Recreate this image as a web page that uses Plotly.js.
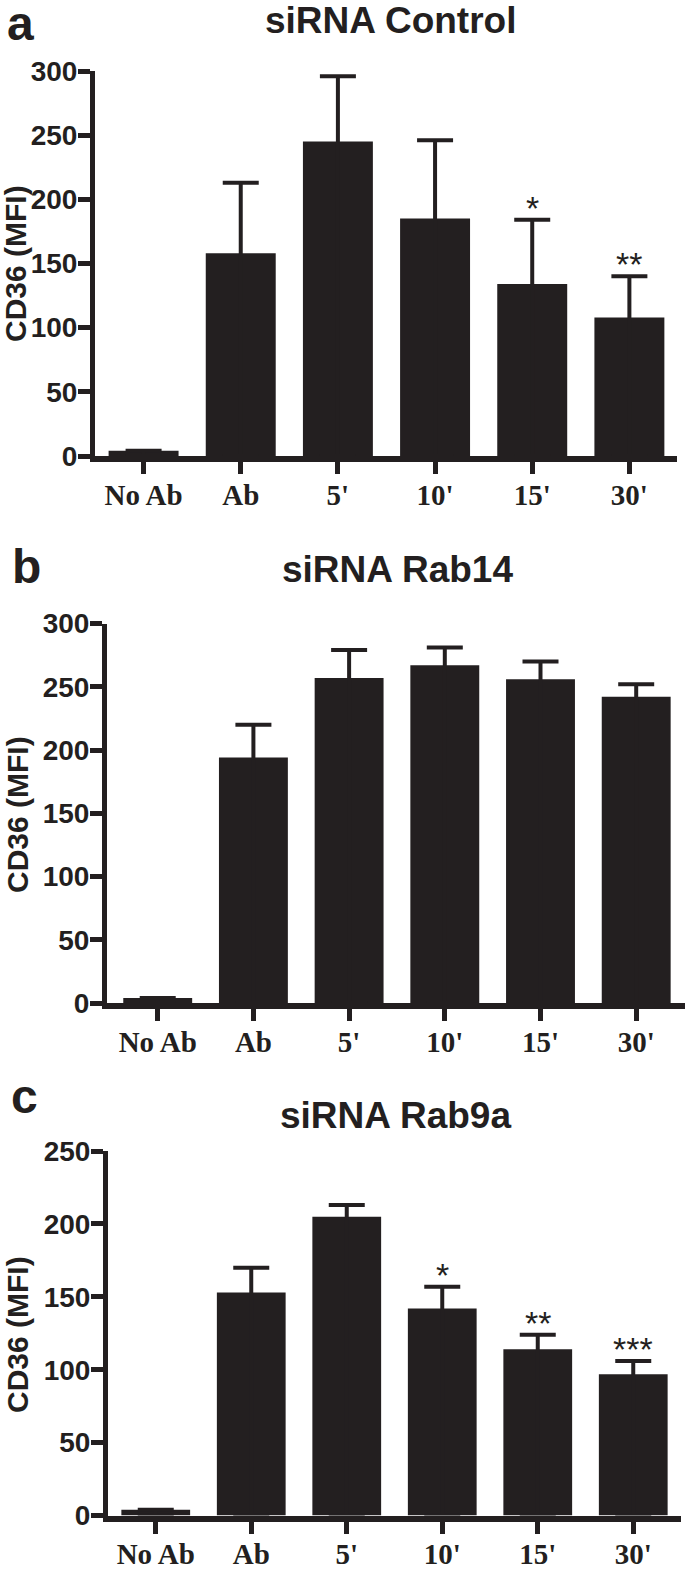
<!DOCTYPE html>
<html>
<head>
<meta charset="utf-8">
<script src="https://cdn.plot.ly/plotly-3.0.1.min.js"></script>
<style>
  html, body { margin: 0; padding: 0; background: #fff; }
  #chart { width: 685px; height: 1580px; }
</style>
</head>
<body>
<div id="chart"></div>
<script>
var categories = ['No Ab', 'Ab', "5'", "10'", "15'", "30'"];

// panel a - siRNA Control
var controlMean = [4, 158, 245, 185, 134, 108];
var controlErr = [0, 55, 51, 61, 50, 32];
var controlStars = ['', '', '', '', '*', '**'];

// panel b - siRNA Rab14
var rab14Mean = [4, 194, 257, 267, 256, 242];
var rab14Err = [0, 26, 22, 14, 14, 10];

// panel c - siRNA Rab9a
var rab9aMean = [4, 153, 205, 142, 114, 97];
var rab9aErr = [0, 17, 8, 15, 10, 9];
var rab9aStars = ['', '', '', '*', '**', '***'];

var ink = '#231f20';
var sans = 'Liberation Sans, Arial, Helvetica, sans-serif';
var serif = 'Liberation Serif, Times New Roman, serif';
var W = 685, H = 1580;

function barTrace(means, errs, xa, ya) {
    return {
        x: categories,
        y: means,
        type: 'bar',
        xaxis: xa,
        yaxis: ya,
        width: 0.72,
        marker: {color: ink, line: {width: 0}},
        error_y: {
            type: 'data', symmetric: false,
            array: errs, arrayminus: means,
            color: ink, thickness: 4, width: 18
        },
        hoverinfo: 'none'
    };
}

function xAxis(left, right, range, anchor) {
    return {
        type: 'category',
        domain: [left / W, right / W], range: range, anchor: anchor,
        showline: true, linewidth: 6, linecolor: ink,
        ticks: 'outside', ticklen: 12, tickwidth: 5, tickcolor: ink,
        ticklabelstandoff: -4,
        showgrid: false, zeroline: false,
        tickfont: {family: serif, size: 29, color: ink, weight: 'bold'}
    };
}

function yAxis(bottom, top, range, anchor) {
    return {
        domain: [1 - bottom / H, 1 - top / H], range: range, anchor: anchor,
        showline: true, linewidth: 5, linecolor: ink,
        ticks: 'outside', ticklen: 12, tickwidth: 5, tickcolor: ink,
        ticklabelstandoff: -5,
        tick0: 0, dtick: 50,
        showgrid: false, zeroline: false,
        tickfont: {family: sans, size: 28, color: ink, weight: 'bold'}
    };
}

function label(text, px, py, size, extra) {
    var a = {
        text: text, xref: 'paper', yref: 'paper',
        x: px / W, y: 1 - py / H, xanchor: 'center', yanchor: 'middle',
        showarrow: false,
        font: {family: sans, size: size, color: ink, weight: 'bold'}
    };
    for (var k in extra) a[k] = extra[k];
    return a;
}

function stars(marks, means, errs, xa, ya) {
    var out = [];
    marks.forEach(function (s, i) {
        if (!s) return;
        out.push({
            text: s, x: categories[i], y: means[i] + errs[i],
            xref: xa, yref: ya, xanchor: 'center', yanchor: 'middle',
            yshift: 12, showarrow: false,
            font: {family: sans, size: 34, color: ink}
        });
    });
    return out;
}

var data = [
    barTrace(controlMean, controlErr, 'x', 'y'),
    barTrace(rab14Mean, rab14Err, 'x2', 'y2'),
    barTrace(rab9aMean, rab9aErr, 'x3', 'y3')
];

var annotations = [
    label('a', 20, 24, 48),
    label('siRNA Control', 390, 21, 37),
    label('b', 26, 566, 48),
    label('siRNA Rab14', 397, 570, 37),
    label('c', 25, 1096, 48),
    label('siRNA Rab9a', 395, 1115, 37),
    label('CD36 (MFI)', 15, 264, 30, {textangle: -90}),
    label('CD36 (MFI)', 17, 815, 30, {textangle: -90}),
    label('CD36 (MFI)', 17, 1335, 30, {textangle: -90})
].concat(stars(controlStars, controlMean, controlErr, 'x', 'y'))
 .concat(stars(rab9aStars, rab9aMean, rab9aErr, 'x3', 'y3'));

var layout = {
    width: W, height: H,
    margin: {l: 0, r: 0, t: 0, b: 0},
    showlegend: false,
    paper_bgcolor: '#ffffff',
    plot_bgcolor: 'rgba(0,0,0,0)',
    xaxis: xAxis(95, 677, [-0.5, 5.49], 'y'),
    yaxis: yAxis(456, 71, [0, 300], 'x'),
    xaxis2: xAxis(107, 685, [-0.53, 5.51], 'y2'),
    yaxis2: yAxis(1003, 623.5, [0, 300], 'x2'),
    xaxis3: xAxis(108, 681, [-0.5, 5.5], 'y3'),
    yaxis3: yAxis(1515.6, 1151, [0, 250], 'x3'),
    annotations: annotations
};

Plotly.newPlot('chart', data, layout, {displayModeBar: false, staticPlot: true});
</script>
</body>
</html>
